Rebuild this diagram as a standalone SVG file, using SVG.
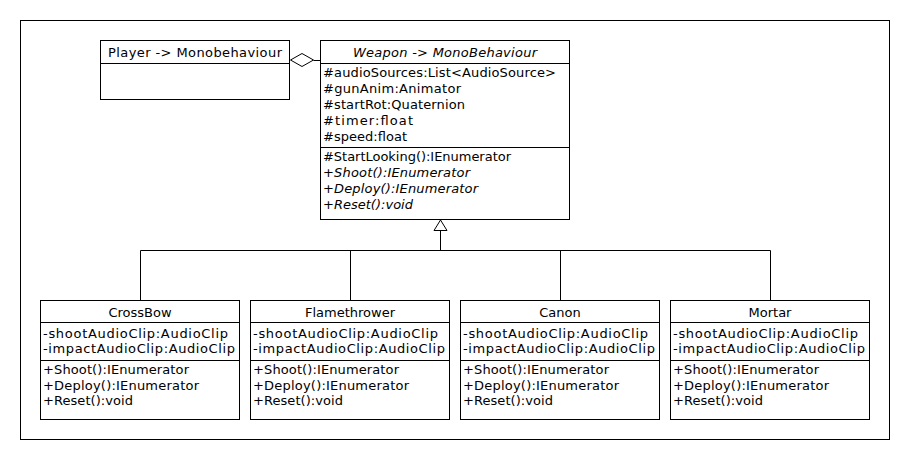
<svg xmlns="http://www.w3.org/2000/svg" width="910" height="460" viewBox="0 0 910 460">
<style>
  .box { fill: #ffffff; stroke: #000000; stroke-width: 1; }
  .ln { stroke: #000000; stroke-width: 1; fill: none; }
  text { font-family: "DejaVu Sans", "Liberation Sans", sans-serif; font-size: 13px; fill: #000000; }
  .c { text-anchor: middle; }
  .i { font-style: italic; }
</style>
<rect x="0" y="0" width="910" height="460" fill="#ffffff"/>
<rect x="20.5" y="20.5" width="869" height="419" class="ln"/>

<g id="connectors">
  <!-- aggregation Player <>- Weapon -->
  <polygon points="290.5,60 302,53.5 313.5,60 302,66.5" fill="#ffffff" stroke="#000000" stroke-width="1"/>
  <line x1="313.5" y1="60.5" x2="320.5" y2="60.5" class="ln"/>
  <!-- generalization tree -->
  <polyline points="140.5,300 140.5,250.5 770.5,250.5 770.5,300" class="ln"/>
  <line x1="350.5" y1="250.5" x2="350.5" y2="300" class="ln"/>
  <line x1="560.5" y1="250.5" x2="560.5" y2="300" class="ln"/>
  <line x1="440.5" y1="231" x2="440.5" y2="250.5" class="ln"/>
  <polygon points="440.5,220 434,230.5 447,230.5" fill="#ffffff" stroke="#000000" stroke-width="1"/>
</g>

<g id="player">
  <rect x="100.5" y="40.5" width="189" height="59" class="box"/>
  <line x1="100.5" y1="63.5" x2="289.5" y2="63.5" class="ln"/>
  <text x="195" y="57" class="c" textLength="174">Player -&gt; Monobehaviour</text>
</g>

<g id="weapon">
  <rect x="320.5" y="40.5" width="249" height="179" class="box"/>
  <line x1="320.5" y1="63.5" x2="569.5" y2="63.5" class="ln"/>
  <line x1="320.5" y1="147.5" x2="569.5" y2="147.5" class="ln"/>
  <text x="445" y="57" class="c i" textLength="184">Weapon -&gt; MonoBehaviour</text>
  <text x="323" y="77" textLength="233">#audioSources:List&lt;AudioSource&gt;</text>
  <text x="323" y="93" textLength="138">#gunAnim:Animator</text>
  <text x="323" y="109" textLength="142">#startRot:Quaternion</text>
  <text x="323" y="125" textLength="90">#timer:float</text>
  <text x="323" y="141" textLength="84">#speed:float</text>
  <text x="323" y="161" textLength="188">#StartLooking():IEnumerator</text>
  <text x="323" y="177" class="i" textLength="147">+Shoot():IEnumerator</text>
  <text x="323" y="193" class="i" textLength="155">+Deploy():IEnumerator</text>
  <text x="323" y="209" class="i" textLength="90">+Reset():void</text>
</g>

<g id="crossbow">
  <rect x="40.5" y="300.5" width="199" height="119" class="box"/>
  <line x1="40.5" y1="322.5" x2="239.5" y2="322.5" class="ln"/>
  <line x1="40.5" y1="360.5" x2="239.5" y2="360.5" class="ln"/>
  <text x="140" y="317" class="c">CrossBow</text>
  <text x="43" y="338" textLength="185">-shootAudioClip:AudioClip</text>
  <text x="43" y="353" textLength="192">-impactAudioClip:AudioClip</text>
  <text x="43" y="374" textLength="146">+Shoot():IEnumerator</text>
  <text x="43" y="390" textLength="156">+Deploy():IEnumerator</text>
  <text x="43" y="405" textLength="90">+Reset():void</text>
</g>

<g id="flamethrower">
  <rect x="250.5" y="300.5" width="199" height="119" class="box"/>
  <line x1="250.5" y1="322.5" x2="449.5" y2="322.5" class="ln"/>
  <line x1="250.5" y1="360.5" x2="449.5" y2="360.5" class="ln"/>
  <text x="350" y="317" class="c">Flamethrower</text>
  <text x="253" y="338" textLength="185">-shootAudioClip:AudioClip</text>
  <text x="253" y="353" textLength="192">-impactAudioClip:AudioClip</text>
  <text x="253" y="374" textLength="146">+Shoot():IEnumerator</text>
  <text x="253" y="390" textLength="156">+Deploy():IEnumerator</text>
  <text x="253" y="405" textLength="90">+Reset():void</text>
</g>

<g id="canon">
  <rect x="460.5" y="300.5" width="199" height="119" class="box"/>
  <line x1="460.5" y1="322.5" x2="659.5" y2="322.5" class="ln"/>
  <line x1="460.5" y1="360.5" x2="659.5" y2="360.5" class="ln"/>
  <text x="560" y="317" class="c">Canon</text>
  <text x="463" y="338" textLength="185">-shootAudioClip:AudioClip</text>
  <text x="463" y="353" textLength="192">-impactAudioClip:AudioClip</text>
  <text x="463" y="374" textLength="146">+Shoot():IEnumerator</text>
  <text x="463" y="390" textLength="156">+Deploy():IEnumerator</text>
  <text x="463" y="405" textLength="90">+Reset():void</text>
</g>

<g id="mortar">
  <rect x="670.5" y="300.5" width="199" height="119" class="box"/>
  <line x1="670.5" y1="322.5" x2="869.5" y2="322.5" class="ln"/>
  <line x1="670.5" y1="360.5" x2="869.5" y2="360.5" class="ln"/>
  <text x="770" y="317" class="c">Mortar</text>
  <text x="673" y="338" textLength="185">-shootAudioClip:AudioClip</text>
  <text x="673" y="353" textLength="192">-impactAudioClip:AudioClip</text>
  <text x="673" y="374" textLength="146">+Shoot():IEnumerator</text>
  <text x="673" y="390" textLength="156">+Deploy():IEnumerator</text>
  <text x="673" y="405" textLength="90">+Reset():void</text>
</g>
</svg>
